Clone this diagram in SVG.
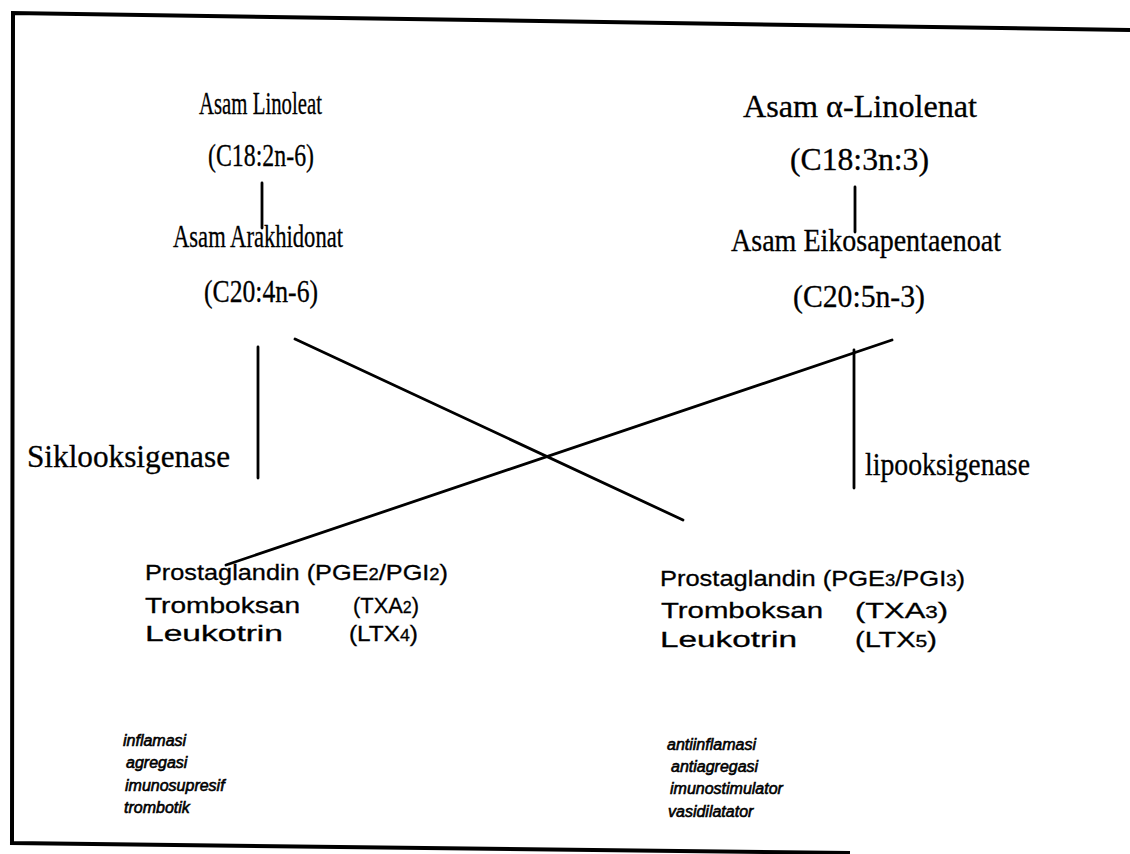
<svg xmlns="http://www.w3.org/2000/svg" width="1130" height="854" viewBox="0 0 1130 854">
<style>
.ser{font-family:"Liberation Serif","Times New Roman",serif;font-size:32px;fill:#000;stroke:#000;stroke-width:0.3}
.san{font-family:"Liberation Sans",Arial,sans-serif;font-size:22px;fill:#000;stroke:#000;stroke-width:0.3}
.it{font-family:"Liberation Sans",Arial,sans-serif;font-size:16px;font-style:italic;fill:#000;stroke:#000;stroke-width:0.6}
.sub{font-size:16px}
.ln{stroke:#000;stroke-width:2.8;fill:none;stroke-linecap:round}
.fr{stroke:#000;stroke-width:4;fill:none}
</style>
<rect width="1130" height="854" fill="#fff"/>
<g id="frame">
<path class="fr" d="M1130,30 L13,13 L12,843 L850,853"/>
</g>
<g id="connectors">
<line class="ln" x1="262" y1="183" x2="262" y2="228"/>
<line class="ln" x1="855" y1="187" x2="855" y2="232"/>
<line class="ln" x1="258" y1="347" x2="258" y2="478"/>
<line class="ln" x1="854" y1="350" x2="854" y2="488"/>
<line class="ln" x1="295" y1="339" x2="683" y2="520"/>
<line class="ln" x1="892" y1="340" x2="226" y2="565"/>
</g>
<g id="linoleat">
<text class="ser" x="199" y="114" textLength="123" lengthAdjust="spacingAndGlyphs">Asam Linoleat</text>
<text class="ser" x="208" y="166" textLength="106" lengthAdjust="spacingAndGlyphs">(C18:2n-6)</text>
</g>
<g id="linolenat">
<text class="ser" x="743" y="117" textLength="234" lengthAdjust="spacingAndGlyphs">Asam α-Linolenat</text>
<text class="ser" x="790" y="170" textLength="139" lengthAdjust="spacingAndGlyphs">(C18:3n:3)</text>
</g>
<g id="arakhidonat">
<text class="ser" x="173" y="247" textLength="170" lengthAdjust="spacingAndGlyphs">Asam Arakhidonat</text>
<text class="ser" x="204" y="302" textLength="114" lengthAdjust="spacingAndGlyphs">(C20:4n-6)</text>
</g>
<g id="eikosapentaenoat">
<text class="ser" x="731" y="251" textLength="270" lengthAdjust="spacingAndGlyphs">Asam Eikosapentaenoat</text>
<text class="ser" x="793" y="307" textLength="132" lengthAdjust="spacingAndGlyphs">(C20:5n-3)</text>
</g>
<g id="siklooksigenase">
<text class="ser" x="27" y="467" textLength="203" lengthAdjust="spacingAndGlyphs">Siklooksigenase</text>
</g>
<g id="lipooksigenase">
<text class="ser" x="865" y="475" textLength="165" lengthAdjust="spacingAndGlyphs">lipooksigenase</text>
</g>
<g id="products-left">
<text class="san" x="145" y="580" textLength="303" lengthAdjust="spacingAndGlyphs">Prostaglandin (PGE<tspan class="sub">2</tspan>/PGI<tspan class="sub">2</tspan>)</text>
<text class="san" x="145" y="613" textLength="155" lengthAdjust="spacingAndGlyphs">Tromboksan</text>
<text class="san" x="353" y="613" textLength="66" lengthAdjust="spacingAndGlyphs">(TXA<tspan class="sub">2</tspan>)</text>
<text class="san" x="145" y="641" textLength="138" lengthAdjust="spacingAndGlyphs">Leukotrin</text>
<text class="san" x="349" y="641" textLength="69" lengthAdjust="spacingAndGlyphs">(LTX<tspan class="sub">4</tspan>)</text>
</g>
<g id="products-right">
<text class="san" x="660" y="586" textLength="305" lengthAdjust="spacingAndGlyphs">Prostaglandin (PGE<tspan class="sub">3</tspan>/PGI<tspan class="sub">3</tspan>)</text>
<text class="san" x="661" y="618" textLength="162" lengthAdjust="spacingAndGlyphs">Tromboksan</text>
<text class="san" x="855" y="618" textLength="93" lengthAdjust="spacingAndGlyphs">(TXA<tspan class="sub">3</tspan>)</text>
<text class="san" x="660" y="647" textLength="137" lengthAdjust="spacingAndGlyphs">Leukotrin</text>
<text class="san" x="855" y="647" textLength="82" lengthAdjust="spacingAndGlyphs">(LTX<tspan class="sub">5</tspan>)</text>
</g>
<g id="effects-left">
<text class="it" x="123" y="746">inflamasi</text>
<text class="it" x="126" y="768">agregasi</text>
<text class="it" x="125" y="791">imunosupresif</text>
<text class="it" x="124" y="813">trombotik</text>
</g>
<g id="effects-right">
<text class="it" x="667" y="750">antiinflamasi</text>
<text class="it" x="671" y="772">antiagregasi</text>
<text class="it" x="670" y="794">imunostimulator</text>
<text class="it" x="668" y="817">vasidilatator</text>
</g>
</svg>
